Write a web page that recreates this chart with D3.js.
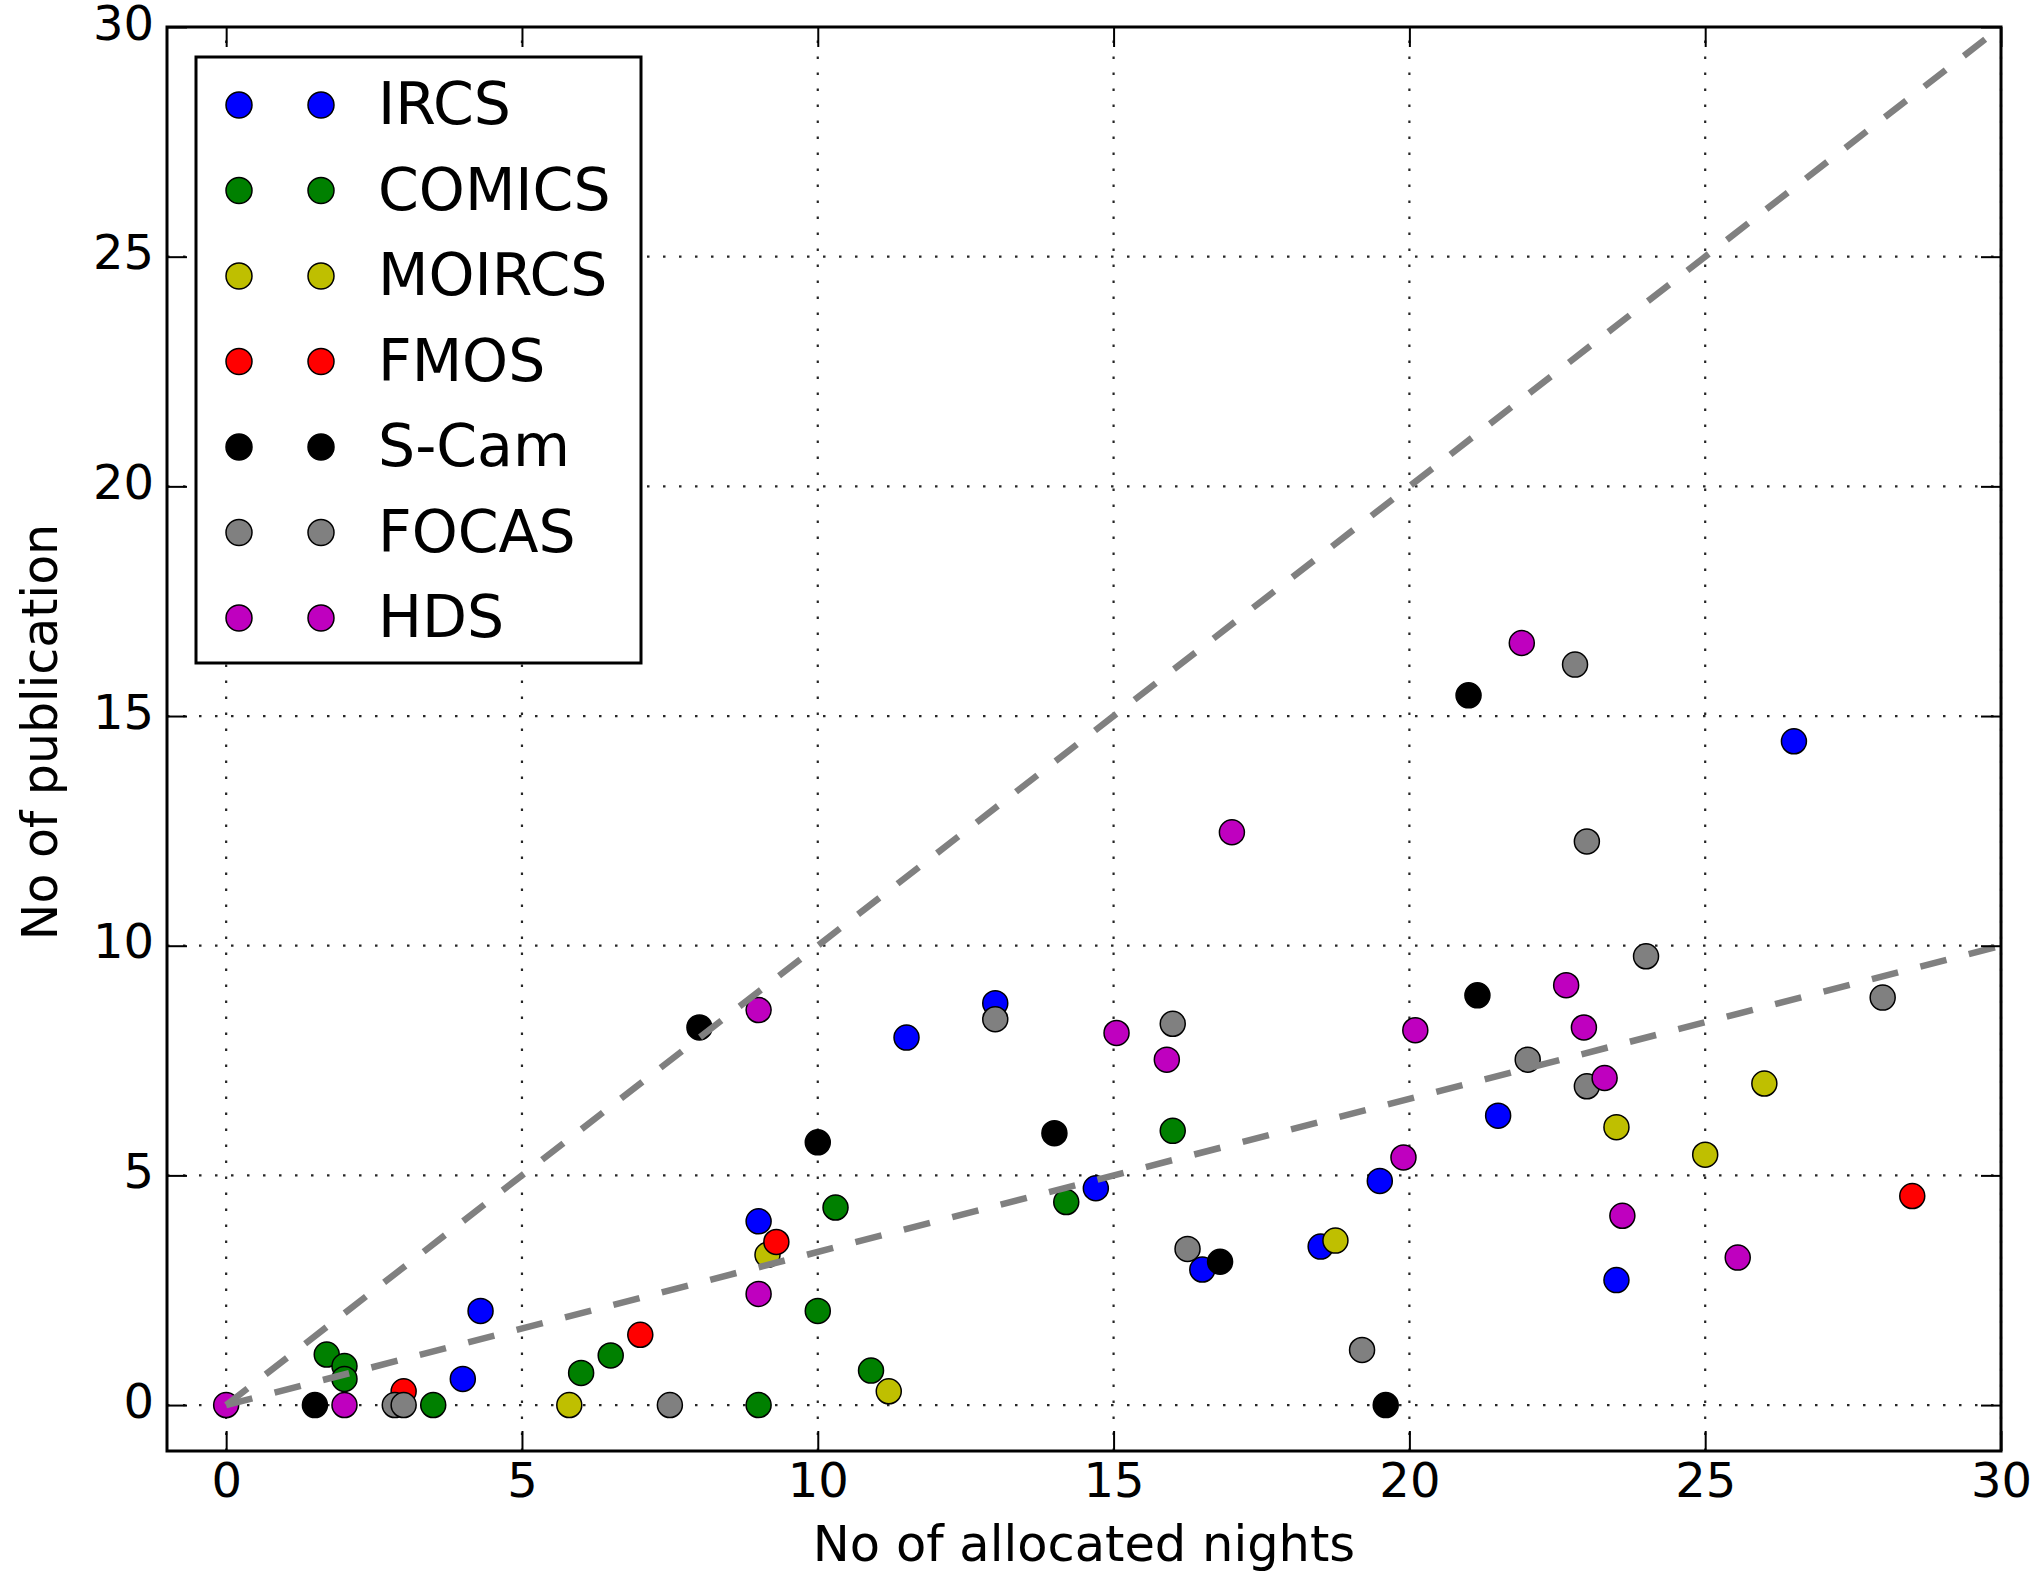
<!DOCTYPE html>
<html>
<head>
<meta charset="utf-8">
<script src="https://cdn.jsdelivr.net/npm/d3@7"></script>
<style>
  html, body { margin: 0; padding: 0; background: #fff; }
  svg { display: block; }
  text { font-family: "DejaVu Sans", sans-serif; fill: #000; }
</style>
</head>
<body>
<svg id="chart" width="2037" height="1578"></svg>
<script>
// ---- data ----
const seriesNames = ["IRCS", "COMICS", "MOIRCS", "FMOS", "S-Cam", "FOCAS", "HDS"];
const seriesColors = ["#0000ff", "#008000", "#bfbf00", "#ff0000", "#000000", "#808080", "#bf00bf"];

const ircsX = [26.5, 13, 11.5, 9, 4.3, 4, 14.7, 19.5, 21.5, 18.5, 16.5, 23.5];
const ircsY = [14.45, 8.75, 8.0, 4.0, 2.05, 0.57, 4.72, 4.88, 6.3, 3.45, 2.95, 2.72];

const comicsX = [1.7, 2.0, 2.0, 3.5, 6.0, 6.5, 9, 10, 10.3, 10.9, 14.2, 16];
const comicsY = [1.1, 0.85, 0.57, 0, 0.7, 1.08, 0, 2.05, 4.3, 0.75, 4.42, 5.97];

const moircsX = [5.8, 9.15, 11.2, 18.75, 23.5, 25, 26];
const moircsY = [0, 3.27, 0.3, 3.58, 6.05, 5.45, 7.0];

const fmosX = [3.0, 7.0, 9.3, 28.5];
const fmosY = [0.3, 1.53, 3.55, 4.55];

const scamX = [1.5, 8, 10, 14, 16.8, 19.6, 21, 21.15];
const scamY = [0, 8.22, 5.72, 5.92, 3.12, 0, 15.45, 8.92];

const focasX = [2.85, 3.0, 7.5, 13, 16, 16.25, 19.2, 22.8, 23, 24, 22, 23, 28];
const focasY = [0, 0, 0, 8.4, 8.3, 3.4, 1.2, 16.12, 12.27, 9.77, 7.52, 6.94, 8.87];

const hdsX = [0, 2, 9, 9, 15.05, 15.9, 17, 21.9, 22.65, 22.95, 20.1, 23.3, 19.9, 23.6, 25.55];
const hdsY = [0, 0, 8.6, 2.42, 8.1, 7.52, 12.47, 16.59, 9.14, 8.22, 8.16, 7.12, 5.39, 4.12, 3.21];

// reference lines: publications = nights, publications = nights / 3
const refLineX = [0, 30];
const refLine1Y = [0, 30];
const refLine2Y = [0, 10];

const xTicks = [0, 5, 10, 15, 20, 25, 30];
const yTicks = [0, 5, 10, 15, 20, 25, 30];
const xLabel = "No of allocated nights";
const yLabel = "No of publication";

// ---- build ----
const seriesX = [ircsX, comicsX, moircsX, fmosX, scamX, focasX, hdsX];
const seriesY = [ircsY, comicsY, moircsY, fmosY, scamY, focasY, hdsY];
const series = seriesNames.map((name, i) => ({
  name, color: seriesColors[i],
  points: seriesX[i].map((x, j) => ({ x, y: seriesY[i][j] }))
}));

const svg = d3.select("#chart");
svg.append("rect").attr("width", 2037).attr("height", 1578).attr("fill", "#fff");

const L = 167, R = 2001, T = 27, B = 1451;
const x = d3.scaleLinear().domain([-1, 30]).range([L, R]);
const y = d3.scaleLinear().domain([-1, 30]).range([B, T]);

const tickLen = 20;

// grid
const grid = svg.append("g");
grid.selectAll("line.gx").data(xTicks).join("line")
  .attr("x1", d => x(d)).attr("x2", d => x(d)).attr("y1", B).attr("y2", T)
  .attr("stroke", "#000").attr("stroke-width", 2.2).attr("stroke-dasharray", "2.5,13.5").attr("stroke-opacity", 0.85);
grid.selectAll("line.gy").data(yTicks).join("line")
  .attr("y1", d => y(d)).attr("y2", d => y(d)).attr("x1", L).attr("x2", R)
  .attr("stroke", "#000").attr("stroke-width", 2.2).attr("stroke-dasharray", "2.5,13.5").attr("stroke-opacity", 0.85);

// points
svg.append("clipPath").attr("id", "plotclip").append("rect")
  .attr("x", L).attr("y", T).attr("width", R - L).attr("height", B - T);
const plot = svg.append("g").attr("clip-path", "url(#plotclip)");
series.forEach(s => {
  plot.append("g").selectAll("circle").data(s.points).join("circle")
    .attr("cx", d => x(d.x)).attr("cy", d => y(d.y)).attr("r", 12.5)
    .attr("fill", s.color).attr("stroke", "#000").attr("stroke-width", 1.5);
});

// dashed reference lines
const line = d3.line().x(d => x(d[0])).y(d => y(d[1]));
[refLine1Y, refLine2Y].forEach(ys => {
  plot.append("path").datum(refLineX.map((v, i) => [v, ys[i]]))
    .attr("d", line).attr("fill", "none").attr("stroke", "#808080")
    .attr("stroke-width", 6.5).attr("stroke-dasharray", "27,23");
});

// axes (ticks inward on all sides)
function styleAxis(g) {
  g.select(".domain").remove();
  g.selectAll(".tick line").attr("stroke", "#000").attr("stroke-width", 2);
}
const axB = svg.append("g").attr("transform", `translate(0,${B})`)
  .call(d3.axisBottom(x).tickValues(xTicks).tickSizeInner(-tickLen).tickSizeOuter(0).tickFormat(d3.format("d")));
styleAxis(axB);
axB.selectAll(".tick text").attr("y", 46).attr("dy", 0).attr("font-size", 48)
  .attr("font-family", "DejaVu Sans, sans-serif").attr("fill", "#000");

const axT = svg.append("g").attr("transform", `translate(0,${T})`)
  .call(d3.axisTop(x).tickValues(xTicks).tickSizeInner(-tickLen).tickSizeOuter(0).tickFormat(""));
styleAxis(axT);

const axL = svg.append("g").attr("transform", `translate(${L},0)`)
  .call(d3.axisLeft(y).tickValues(yTicks).tickSizeInner(-tickLen).tickSizeOuter(0).tickFormat(d3.format("d")));
styleAxis(axL);
axL.selectAll(".tick text").attr("x", -13).attr("dy", "0.25em").attr("font-size", 48)
  .attr("font-family", "DejaVu Sans, sans-serif").attr("fill", "#000");

const axR = svg.append("g").attr("transform", `translate(${R},0)`)
  .call(d3.axisRight(y).tickValues(yTicks).tickSizeInner(-tickLen).tickSizeOuter(0).tickFormat(""));
styleAxis(axR);

// frame
svg.append("rect").attr("x", L).attr("y", T).attr("width", R - L).attr("height", B - T)
  .attr("fill", "none").attr("stroke", "#000").attr("stroke-width", 3);

// axis labels
svg.append("text").attr("x", (L + R) / 2).attr("y", 1561).attr("text-anchor", "middle")
  .attr("font-size", 49.5).text(xLabel);
svg.append("text").attr("transform", `translate(57,732) rotate(-90)`)
  .attr("text-anchor", "middle").attr("font-size", 49).text(yLabel);

// legend
const lg = svg.append("g");
lg.append("rect").attr("x", 196).attr("y", 57).attr("width", 445).attr("height", 606)
  .attr("fill", "#fff").attr("stroke", "#000").attr("stroke-width", 3);
const rowY = d3.scaleLinear().domain([0, 1]).range([105, 190.5]);
series.forEach((s, i) => {
  const cy = rowY(i);
  [239, 321].forEach(cx => {
    lg.append("circle").attr("cx", cx).attr("cy", cy).attr("r", 13)
      .attr("fill", s.color).attr("stroke", "#000").attr("stroke-width", 1.5);
  });
  lg.append("text").attr("x", 378).attr("y", cy + 19).attr("font-size", 58.5).text(s.name);
});
</script>
</body>
</html>
